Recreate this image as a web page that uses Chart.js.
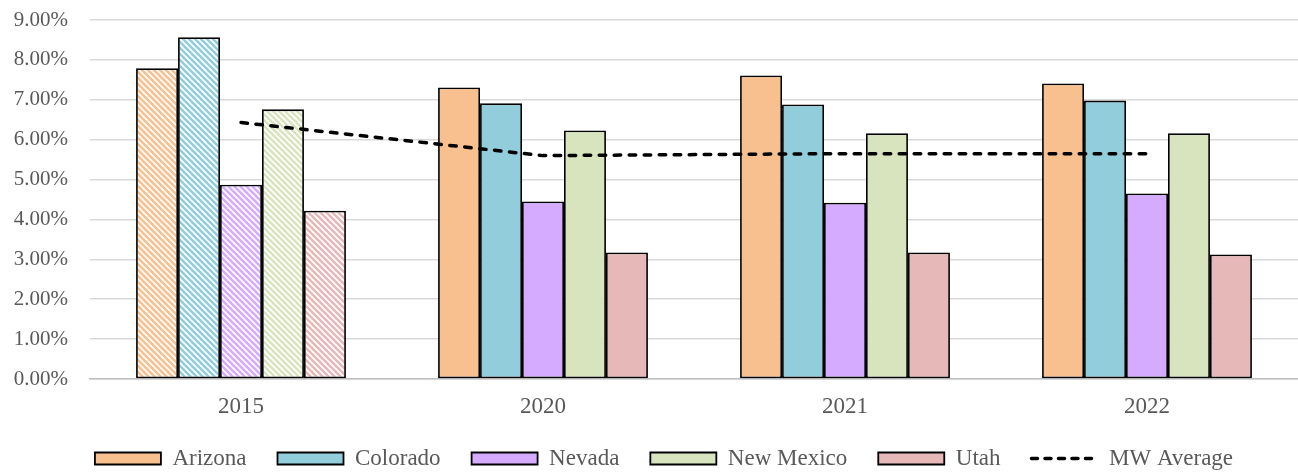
<!DOCTYPE html>
<html>
<head>
<meta charset="utf-8">
<script src="https://cdn.jsdelivr.net/npm/chart.js@4/dist/chart.umd.min.js"></script>
<style>
  html, body { margin: 0; padding: 0; background: #ffffff; }
  #wrap { width: 1298px; height: 472px; }
</style>
</head>
<body>
<div id="wrap"><canvas id="chart" width="1298" height="472"></canvas></div>
<script>
// Years shown on the x axis
const years = ['2015', '2020', '2021', '2022'];

// Rates per state, in percent
const arizona   = [7.79, 7.31, 7.61, 7.41];
const colorado  = [8.57, 6.91, 6.88, 6.98];
const nevada    = [4.87, 4.45, 4.42, 4.65];
const newMexico = [6.76, 6.23, 6.16, 6.16];
const utah      = [4.22, 3.17, 3.17, 3.12];

// Regional average line
const mwAverage = [6.43, 5.60, 5.65, 5.65];

// Y-axis tick values (percent)
const yTicks = [0, 1, 2, 3, 4, 5, 6, 7, 8, 9];

const FONT = '"Liberation Serif", "DejaVu Serif", serif';
const TEXT = '#595959';

// Diagonal stripe fill used for the first year's bars
function stripes(color) {
  const c = document.createElement('canvas');
  c.width = 6; c.height = 6;
  const g = c.getContext('2d');
  g.fillStyle = '#ffffff';
  g.fillRect(0, 0, 6, 6);
  g.strokeStyle = color;
  g.lineWidth = 2.6;
  g.lineCap = 'square';
  for (const k of [-6, 0, 6]) {
    g.beginPath();
    g.moveTo(k, 0);
    g.lineTo(k + 6, 6);
    g.stroke();
  }
  return g.createPattern(c, 'repeat');
}

function barSet(label, values, color) {
  return {
    type: 'bar',
    label: label,
    data: values,
    legendColor: color,
    backgroundColor: values.map((v, i) => i === 0 ? stripes(color) : color),
    borderColor: '#000000',
    borderWidth: 1.8,
    borderSkipped: false,
    categoryPercentage: 0.695,
    barPercentage: 1.0,
    order: 2
  };
}

const datasets = [
  barSet('Arizona', arizona, '#F8C08F'),
  barSet('Colorado', colorado, '#92CDDC'),
  barSet('Nevada', nevada, '#D5ABFF'),
  barSet('New Mexico', newMexico, '#D7E4BD'),
  barSet('Utah', utah, '#E6B9B8'),
  {
    type: 'line',
    label: 'MW Average',
    data: mwAverage,
    borderColor: '#000000',
    backgroundColor: '#000000',
    borderWidth: 3.5,
    borderDash: [6.5, 8.5],
    borderCapStyle: 'round',
    pointRadius: 0,
    pointHoverRadius: 0,
    tension: 0,
    fill: false,
    order: 1
  }
];

// Centre the legend row over the plot area rather than the whole canvas
const legendOffset = {
  id: 'legendOffset',
  afterLayout(chart) {
    if (chart.legend) chart.legend.left += 30;
  }
};

new Chart(document.getElementById('chart'), {
  data: { labels: years, datasets: datasets },
  plugins: [legendOffset],
  options: {
    responsive: false,
    devicePixelRatio: 1,
    animation: false,
    layout: { padding: { top: 20, right: 0, bottom: -8, left: 0 } },
    plugins: {
      tooltip: { enabled: false },
      legend: {
        position: 'bottom',
        labels: {
          usePointStyle: true,
          pointStyleWidth: 66,
          boxHeight: 12,
          padding: 31,
          color: TEXT,
          font: { family: FONT, size: 23 },
          generateLabels(chart) {
            return chart.data.datasets.map((ds, i) => {
              const isLine = ds.type === 'line';
              return {
                text: ds.label,
                datasetIndex: i,
                fillStyle: isLine ? '#000000' : ds.legendColor,
                strokeStyle: '#000000',
                lineWidth: isLine ? 3.5 : 1.8,
                lineDash: isLine ? [6, 7.5] : [],
                lineCap: isLine ? 'round' : 'butt',
                pointStyle: isLine ? 'line' : 'rect',
                fontColor: TEXT,
                hidden: false
              };
            });
          }
        }
      }
    },
    scales: {
      x: {
        grid: { display: false, drawTicks: false, tickLength: 0 },
        border: { display: true, color: '#bfbfbf', width: 1.5 },
        ticks: { color: TEXT, font: { family: FONT, size: 23 }, padding: 14 },
        afterFit(scale) {
          scale.height = 37;
          scale.paddingLeft = 0;
          scale.paddingRight = 0;
        }
      },
      y: {
        min: yTicks[0],
        max: yTicks[yTicks.length - 1],
        afterBuildTicks(scale) { scale.ticks = yTicks.map(v => ({ value: v })); },
        afterFit(scale) {
          scale.width = 90;
          scale.paddingTop = 0;
          scale.paddingBottom = 0;
        },
        grid: { color: '#d9d9d9', lineWidth: 1.5, drawTicks: false, tickLength: 0 },
        border: { display: false },
        ticks: {
          color: TEXT,
          padding: 22,
          font: { family: FONT, size: 21 },
          callback: v => v.toFixed(2) + '%'
        }
      }
    }
  }
});
</script>
</body>
</html>
